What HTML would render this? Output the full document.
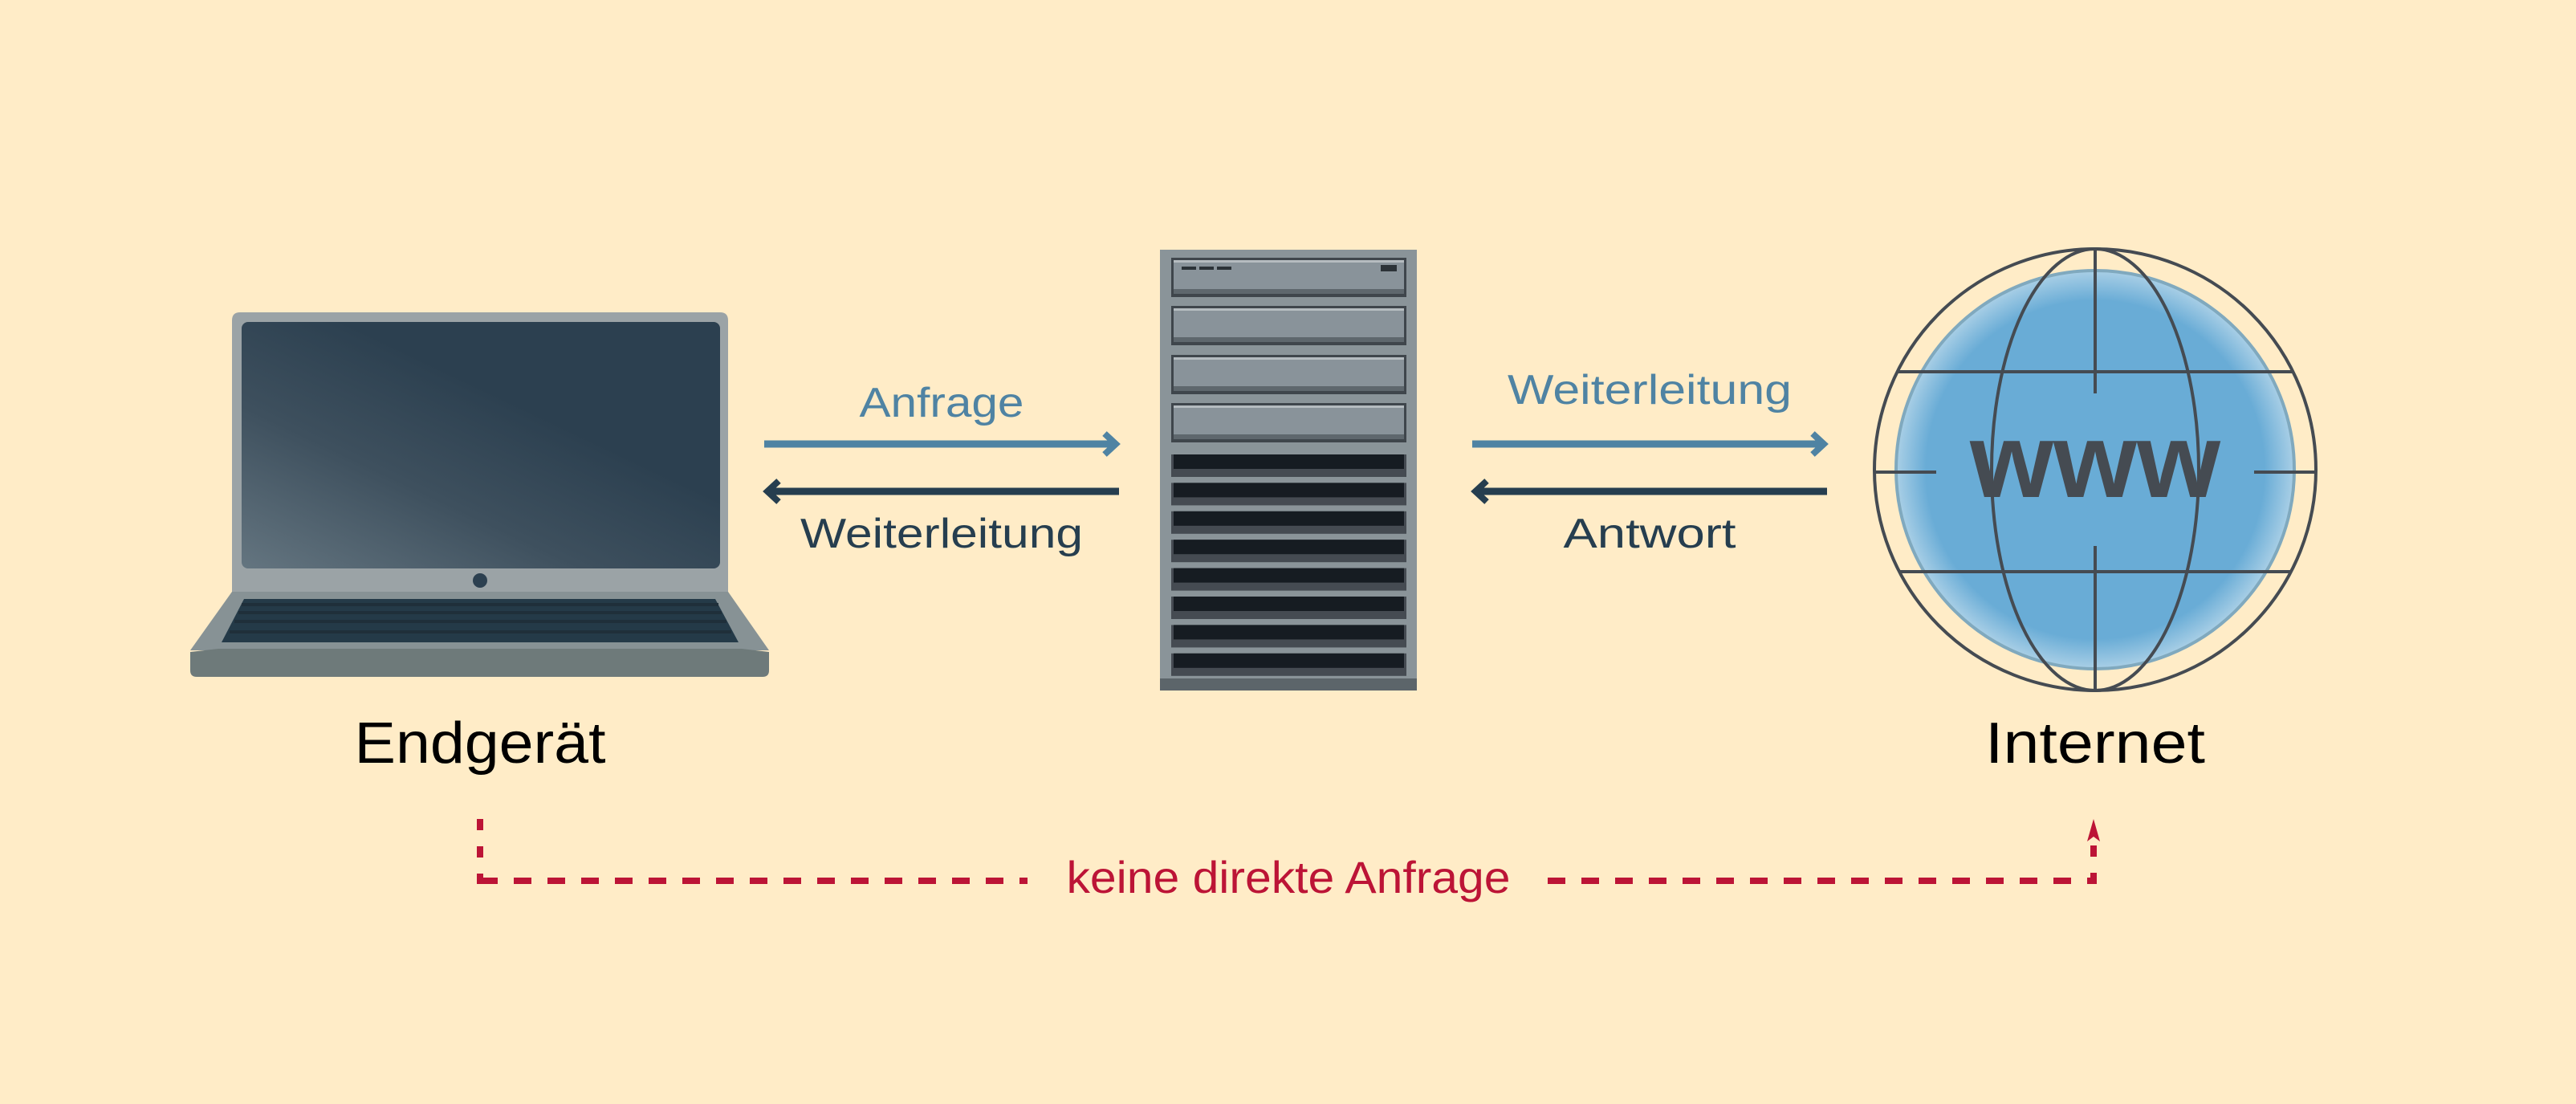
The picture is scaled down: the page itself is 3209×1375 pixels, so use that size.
<!DOCTYPE html>
<html><head><meta charset="utf-8"><style>
html,body{margin:0;padding:0;background:#ffecc7;}
svg{display:block;}
text{font-family:"Liberation Sans",sans-serif;}
</style></head><body>
<svg width="3209" height="1375" viewBox="0 0 3209 1375" xmlns="http://www.w3.org/2000/svg">
<defs>
<linearGradient id="scr" x1="0" y1="1" x2="0.6" y2="0.35">
<stop offset="0" stop-color="#647580"/><stop offset="0.55" stop-color="#3e505e"/><stop offset="1" stop-color="#2c4050"/>
</linearGradient>
<radialGradient id="glb" cx="0.5" cy="0.5" r="0.5">
<stop offset="0.85" stop-color="#69acd6"/><stop offset="1" stop-color="#a9cfe6"/>
</radialGradient>
</defs>
<rect width="3209" height="1375" fill="#ffecc7"/>

<!-- Laptop -->
<path d="M289 737 L289 399 Q289 389 299 389 L897 389 Q907 389 907 399 L907 737 Z" fill="#9ba3a6"/>
<rect x="301" y="401" width="596" height="307" rx="8" fill="url(#scr)"/>
<circle cx="598" cy="723" r="9" fill="#2c4050"/>
<path d="M289 737 L907 737 L958 810 L237 810 Z" fill="#879295"/>
<path d="M272 808 L924 808 L958 812 L958 835 Q958 843 950 843 L245 843 Q237 843 237 835 L237 812 Z" fill="#6e7a7a"/>
<path d="M304 746 L891 746 L920 800 L276 800 Z" fill="#243a48"/>
<g stroke="#1f2f3a" stroke-width="4">
<line x1="301" y1="753" x2="895" y2="753"/><line x1="297" y1="763" x2="899" y2="763"/>
<line x1="292" y1="774" x2="905" y2="774"/><line x1="286" y1="787" x2="911" y2="787"/>
</g>

<!-- Server -->
<rect x="1445" y="311" width="320" height="549" fill="#8a9499"/>
<rect x="1445" y="845" width="320" height="15" fill="#5c656a"/>
<g>
<rect x="1459" y="321" width="293" height="49" fill="#3f464c"/>
<rect x="1462" y="324" width="287" height="42" fill="#89939a"/>
<rect x="1462" y="324" width="287" height="3" fill="#b5bcc0"/>
<rect x="1462" y="360" width="287" height="6" fill="#5e676d"/>
<rect x="1472" y="332" width="18" height="4" fill="#2c3338"/><rect x="1494" y="332" width="18" height="4" fill="#2c3338"/><rect x="1516" y="332" width="18" height="4" fill="#2c3338"/>
<rect x="1720" y="330" width="20" height="8" fill="#2c3338"/>
</g>
<g id="dr">
<rect x="1459" y="381" width="293" height="49" fill="#3f464c"/>
<rect x="1462" y="384" width="287" height="42" fill="#89939a"/>
<rect x="1462" y="384" width="287" height="3" fill="#b5bcc0"/>
<rect x="1462" y="420" width="287" height="6" fill="#5e676d"/>
</g>
<use href="#dr" y="61"/><use href="#dr" y="121"/>
<g id="sl">
<rect x="1459" y="566" width="293" height="28" fill="#454b52"/>
<rect x="1462" y="566" width="287" height="18" fill="#161c22"/>
</g>
<use href="#sl" y="35.4"/><use href="#sl" y="70.8"/><use href="#sl" y="106.2"/><use href="#sl" y="141.6"/><use href="#sl" y="177"/><use href="#sl" y="212.4"/><use href="#sl" y="247.8"/>

<!-- Globe -->
<circle cx="2610" cy="585" r="248" fill="url(#glb)" stroke="#80a9be" stroke-width="4"/>
<g fill="none" stroke="#454b52" stroke-width="4">
<circle cx="2610" cy="585" r="275"/>
<ellipse cx="2610" cy="585" rx="129" ry="275"/>
<line x1="2610" y1="310" x2="2610" y2="490"/><line x1="2610" y1="680" x2="2610" y2="860"/>
<line x1="2365" y1="463" x2="2855" y2="463"/><line x1="2365" y1="712" x2="2855" y2="712"/>
<line x1="2335" y1="588" x2="2412" y2="588"/><line x1="2808" y1="588" x2="2885" y2="588"/>
</g>
<text x="2610" y="619" text-anchor="middle" font-size="132" font-weight="bold" fill="#454b52" textLength="312" lengthAdjust="spacingAndGlyphs">www</text>

<!-- Arrows -->
<g stroke-width="9" fill="none">
<line x1="952" y1="553" x2="1388" y2="553" stroke="#4f83a3"/>
<polyline points="1376,540 1390,553 1376,566" stroke="#4f83a3" stroke-width="8"/>
<line x1="958" y1="612" x2="1394" y2="612" stroke="#263e4f"/>
<polyline points="970,599 956,612 970,625" stroke="#263e4f" stroke-width="8"/>
<line x1="1834" y1="553" x2="2270" y2="553" stroke="#4f83a3"/>
<polyline points="2258,540 2272,553 2258,566" stroke="#4f83a3" stroke-width="8"/>
<line x1="1840" y1="612" x2="2276" y2="612" stroke="#263e4f"/>
<polyline points="1852,599 1838,612 1852,625" stroke="#263e4f" stroke-width="8"/>
</g>
<text x="1173" y="519" text-anchor="middle" font-size="52" fill="#4f83a3" textLength="205" lengthAdjust="spacingAndGlyphs">Anfrage</text>
<text x="1173" y="682" text-anchor="middle" font-size="52" fill="#263e4f" textLength="352" lengthAdjust="spacingAndGlyphs">Weiterleitung</text>
<text x="2055" y="503" text-anchor="middle" font-size="52" fill="#4f83a3" textLength="354" lengthAdjust="spacingAndGlyphs">Weiterleitung</text>
<text x="2055" y="682" text-anchor="middle" font-size="52" fill="#263e4f" textLength="215" lengthAdjust="spacingAndGlyphs">Antwort</text>

<text x="598" y="950" text-anchor="middle" font-size="72" fill="#000" textLength="313" lengthAdjust="spacingAndGlyphs">Endgerät</text>
<text x="2610" y="950" text-anchor="middle" font-size="72" fill="#000" textLength="274" lengthAdjust="spacingAndGlyphs">Internet</text>

<!-- red dashed -->
<g stroke="#bc1436" stroke-width="8" fill="none">
<line x1="598" y1="1020" x2="598" y2="1101" stroke-dasharray="14,20"/>
<line x1="598" y1="1097" x2="1280" y2="1097" stroke-dasharray="22,20"/>
<line x1="1928" y1="1097" x2="2612" y2="1097" stroke-dasharray="22,20"/>
<line x1="2608" y1="1101" x2="2608" y2="1040" stroke-dasharray="14,20"/>
</g>
<path d="M2608 1020 L2616 1048 L2608 1042 L2600 1048 Z" fill="#bc1436"/>
<text x="1605" y="1112" text-anchor="middle" font-size="56" fill="#bc1436" textLength="553" lengthAdjust="spacingAndGlyphs">keine direkte Anfrage</text>
</svg>
</body></html>
